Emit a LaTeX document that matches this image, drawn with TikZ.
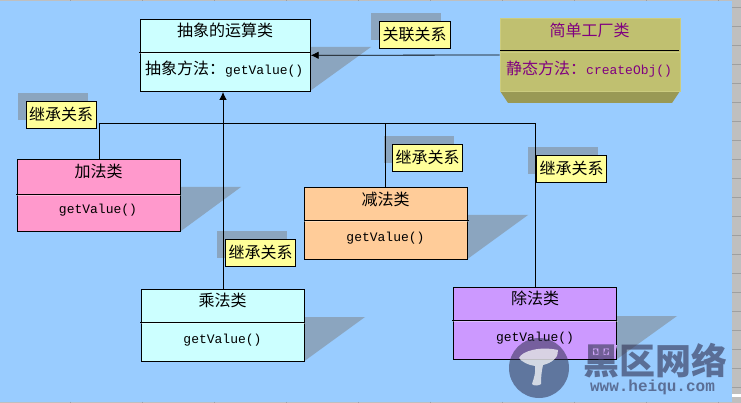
\documentclass[tikz,border=0pt]{standalone}
\usepackage{fontspec}
\setmainfont{Noto Sans CJK SC}
\newfontfamily\latinmono{Liberation Mono}
\usetikzlibrary{arrows.meta}
\definecolor{bgblue}{HTML}{99CCFF}
\definecolor{shade}{HTML}{8BA5BF}
\definecolor{note}{HTML}{FFFF99}
\definecolor{cyanbox}{HTML}{CCFFFF}
\definecolor{pinkbox}{HTML}{FF99CC}
\definecolor{orangebox}{HTML}{FFCC99}
\definecolor{violetbox}{HTML}{CC99FF}
\definecolor{olivebox}{HTML}{C0C070}
\definecolor{olivedark}{HTML}{999955}
\definecolor{oliveedge}{HTML}{CCCC80}
\definecolor{factorytext}{HTML}{800080}
\definecolor{wm}{HTML}{303050}
\newcommand{\ltxt}[1]{{\latinmono\fontsize{13}{13}\selectfont #1}}
\tikzset{
  x=1pt,y=-1pt,
  classbox/.style={draw=black,line width=.8pt,inner sep=0pt,minimum width=#1,minimum height=72pt},
  classbox/.default=163pt,
  notebox/.style={draw=black,line width=.8pt,fill=note,inner sep=0pt,minimum width=70.5pt,minimum height=27pt,font=\fontsize{16}{16}\selectfont},
  noteshade/.style={fill=shade,draw=none},
  boxshade/.style={fill=shade,draw=none},
  rel/.style={line width=.8pt,draw=black},
  relarrow/.style={rel,-{Latex[length=8pt,width=7.5pt]}},
  divider/.style={line width=.8pt,draw=black},
  divglow/.style={line width=.8pt,draw=white,draw opacity=.35},
  title/.style={inner sep=0pt,font=\fontsize{16}{16}\selectfont},
  body/.style={inner sep=0pt,font=\fontsize{16}{16}\selectfont},
  rulerline/.style={line width=.7pt,draw=gray!75},
}
\begin{document}
\begin{tikzpicture}
\useasboundingbox (0,0) rectangle (741,403);
% window and sheet
\fill[gray!50] (0,0) rectangle (741,403);
\fill[bgblue] (0,1.5) rectangle (732,401.5);
\foreach \yy in {7,26,...,406} \draw[rulerline] (732,\yy) -- (741,\yy);
\foreach \xx in {70,142,...,720} {\draw[rulerline] (\xx,0) -- (\xx,1.5); \draw[rulerline] (\xx,401.5) -- (\xx,403);}
\fill[white] (732,394) rectangle (741,397);
% shadows
\fill[boxshade] (310,47) -- (371,47) -- (310,91) -- cycle;
\fill[boxshade] (181,187) -- (241,187) -- (181,231) -- cycle;
\fill[boxshade] (467.5,215) -- (528,215) -- (467.5,259) -- cycle;
\fill[boxshade] (304.5,317) -- (365,317) -- (304.5,361) -- cycle;
\fill[boxshade] (616.5,316) -- (677,316) -- (616.5,359.5) -- cycle;
\fill[noteshade] (18,93) rectangle (88,120);
\fill[noteshade] (371,13) rectangle (441,40);
\fill[noteshade] (384,136) rectangle (454,163);
\fill[noteshade] (528,147) rectangle (598,174);
\fill[noteshade] (217,231) rectangle (287,258);
% factory 3D base
\fill[olivedark] (500,91) -- (508,103) -- (672,103) -- (680,91) -- cycle;
% classes
\node[classbox=170pt,fill=cyanbox,minimum height=72.5pt] (abstract) at (225.3,55.3) {};
\node[classbox=163pt,fill=pinkbox] (add) at (99,195) {};
\node[classbox=163pt,fill=orangebox] (sub) at (385.7,223) {};
\node[classbox=163pt,fill=cyanbox] (mul) at (223,325.3) {};
\node[classbox=163pt,fill=violetbox] (div) at (535,323.3) {};
\node[draw=oliveedge,line width=1pt,fill=olivebox,inner sep=0pt,minimum width=180pt,minimum height=73pt] (factory) at (590,55) {};
% dividers
\draw[divglow] (140,53.5) -- (310,53.5);
\draw[divider] (139,52.5) -- (310.5,52.5);
\draw[divglow] (17,195.5) -- (181,195.5);
\draw[divider] (16,194.5) -- (181,194.5);
\draw[divglow] (304,221.5) -- (468,221.5);
\draw[divider] (304,220.5) -- (469,220.5);
\draw[divglow] (141,323.5) -- (305,323.5);
\draw[divider] (140,322.5) -- (305,322.5);
\draw[divglow] (453,321.5) -- (618,321.5);
\draw[divider] (452,320.5) -- (617,320.5);
\draw[oliveedge,line width=.8pt] (500,52) -- (680,52);
\draw[divider] (500,50.5) -- (679,50.5);
% connectors
\coordinate (bus) at (535,123.5);
\draw[relarrow] (factory.west) -- (abstract.east);
\draw[relarrow] (mul.north) -- (mul.north |- abstract.south);
\draw[rel] (add.north) |- (bus);
\draw[rel] (sub.north) -- (sub.north |- bus);
\draw[rel] (div.north) -- (bus);
% class texts
\node[title] (t1) at (225,30.5) {抽象的运算类};
\node[body,anchor=west] (b1) at (145,69) {抽象方法：\ltxt{getValue()}};
\node[title] (t2) at (98.5,171) {加法类};
\node[body] (b2) at (98,210) {\ltxt{getValue()}};
\node[title] (t3) at (385.5,199) {减法类};
\node[body] (b3) at (385.5,238) {\ltxt{getValue()}};
\node[title] (t4) at (222.5,300.5) {乘法类};
\node[body] (b4) at (222.5,340) {\ltxt{getValue()}};
\node[title] (t5) at (535,298.5) {除法类};
\node[body] (b5) at (535,338) {\ltxt{getValue()}};
\node[title,text=factorytext] (t6) at (589.5,30.5) {简单工厂类};
\node[body,anchor=west,text=factorytext] (b6) at (506,69.5) {静态方法：\ltxt{createObj()}};
% notes
\node[notebox] (n1) at (61.2,114.5) {继承关系};
\node[notebox] (n2) at (414.7,34.5) {关联关系};
\node[notebox] (n3) at (427.5,157.5) {继承关系};
\node[notebox] (n4) at (571.5,168.5) {继承关系};
\node[notebox] (n5) at (260.5,252.5) {继承关系};
% watermark
\fill[wm,opacity=.55] (539,368) circle (30);
\fill[white,opacity=.72] (519,358) .. controls (522,351) and (540,346) .. (558,350) .. controls (559,357) and (552,363) .. (543,365) .. controls (541,374) and (541,381) .. (541,384) .. controls (539,386) and (533,386) .. (532,384) .. controls (534,378) and (536,372) .. (535,366) .. controls (528,365) and (522,362) .. (519,358) -- cycle;
\fill[violetbox!85!white] (593,345) -- (617,345) -- (615,356) -- (591,356) -- cycle;
\node[inner sep=0pt,text=wm,text opacity=.6,font=\fontsize{36}{36}\bfseries\selectfont] (wm1) at (655,361) {黑区网络};
\node[inner sep=0pt,text=wm,text opacity=.6,font=\fontsize{16}{16}\bfseries\selectfont] (wm2) at (652.5,387) {\latinmono www.heiqu.com};
\end{tikzpicture}
\end{document}
